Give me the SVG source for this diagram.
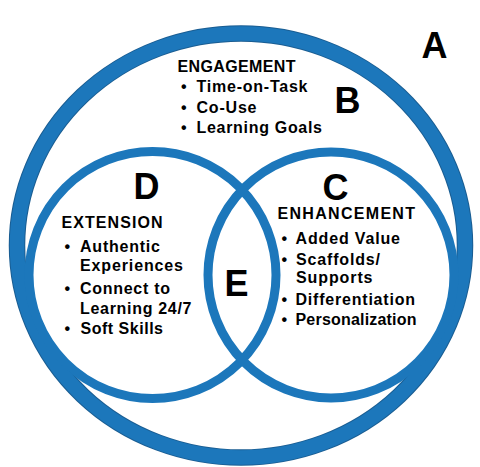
<svg xmlns="http://www.w3.org/2000/svg" width="480" height="467" viewBox="0 0 480 467">
<style>
.t{font-family:"Liberation Sans",Arial,sans-serif;font-weight:bold;fill:#000}
.big{font-size:36px}
.h{font-size:16px}
.b{font-size:16px}
.ring{fill:none}
</style>
<rect width="480" height="467" fill="#fff"/>
<g id="A">
<ellipse class="ring" cx="241" cy="245.5" rx="224" ry="212" stroke="#1a5d92" stroke-width="16.5"/>
<ellipse class="ring" cx="241" cy="245.5" rx="224" ry="212" stroke="#1c77bb" stroke-width="14.5"/>
<text class="t big" x="421.5" y="58">A</text>
</g>
<g id="D">
<circle class="ring" cx="152.5" cy="275" r="123.5" stroke="#1c77bb" stroke-width="9"/>
</g>
<g id="C">
<circle class="ring" cx="331" cy="275" r="123" stroke="#1c77bb" stroke-width="9"/>
</g>
<g id="B-text">
<text class="t big" x="334.5" y="113">B</text>
<text class="t h" x="177.5" y="71.5" textLength="118">ENGAGEMENT</text>
<g class="t b">
<text x="181" y="92">•</text><text x="196.5" y="92" textLength="111">Time-on-Task</text>
<text x="181" y="112.5">•</text><text x="196.5" y="112.5" textLength="60">Co-Use</text>
<text x="181" y="133">•</text><text x="196.5" y="133" textLength="125.5">Learning Goals</text>
</g>
</g>
<g id="D-text">
<text class="t big" x="133.5" y="199">D</text>
<text class="t h" x="61.5" y="228" textLength="101">EXTENSION</text>
<g class="t b">
<text x="64.5" y="252">•</text><text x="80" y="252" textLength="80">Authentic</text>
<text x="80" y="271" textLength="103">Experiences</text>
<text x="64.5" y="293.5">•</text><text x="80" y="293.5" textLength="90">Connect to</text>
<text x="80" y="313.5" textLength="111.5">Learning 24/7</text>
<text x="64.5" y="333.5">•</text><text x="80.5" y="333.5" textLength="82.5">Soft Skills</text>
</g>
</g>
<g id="C-text">
<text class="t big" x="322.5" y="200">C</text>
<text class="t h" x="277.5" y="218.5" textLength="137.5">ENHANCEMENT</text>
<g class="t b">
<text x="281.5" y="243.5">•</text><text x="295.5" y="243.5" textLength="104.5">Added Value</text>
<text x="281.5" y="265">•</text><text x="296" y="265" textLength="84">Scaffolds/</text>
<text x="296" y="283" textLength="76.5">Supports</text>
<text x="281.5" y="305">•</text><text x="295.5" y="305" textLength="119.5">Differentiation</text>
<text x="281.5" y="325">•</text><text x="295.5" y="325" textLength="121">Personalization</text>
</g>
</g>
<g id="E">
<text class="t big" x="224.5" y="296">E</text>
</g>
<g id="connectors"></g>
</svg>
